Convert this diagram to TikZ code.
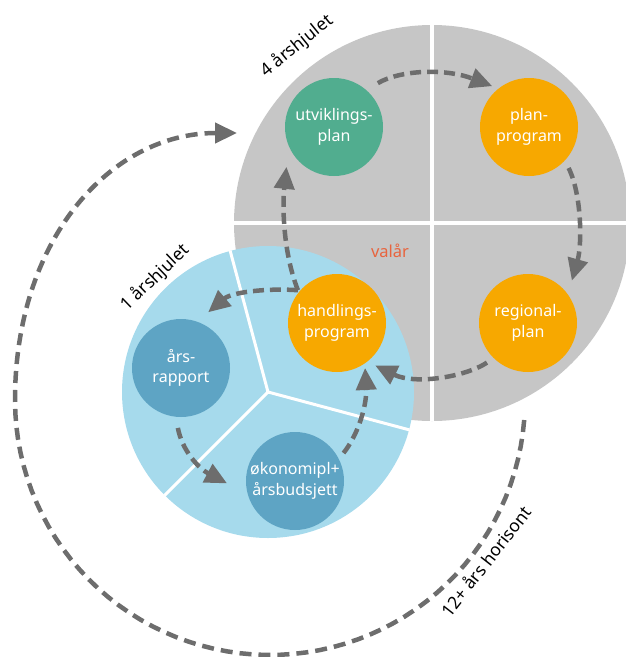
\documentclass[tikz,border=0pt]{standalone}
\usepackage{fontspec}
\setmainfont{Noto Sans}
\usetikzlibrary{arrows.meta}
\definecolor{cgrey}{HTML}{C6C6C6}
\definecolor{clblue}{HTML}{A6DAEC}
\definecolor{cdblue}{HTML}{5EA4C4}
\definecolor{corange}{HTML}{F7A800}
\definecolor{cgreen}{HTML}{51AD8F}
\definecolor{carrow}{HTML}{6D6D6D}
\definecolor{cred}{HTML}{E8643E}
\begin{document}
\begin{tikzpicture}[x=1pt,y=-1pt,
 stage/.style={circle,minimum size=98pt,inner sep=0pt,text=white,align=center,font=\fontsize{16}{20.5}\selectfont},
 flow/.style={draw=carrow,line width=4.5pt,dash pattern=on 11pt off 6pt,-{Triangle[length=22pt,width=20pt]}},
 lbl/.style={font=\fontsize{17.5}{20}\selectfont,inner sep=0pt}]
\useasboundingbox (0,0) rectangle (626,657);
\node[circle,fill=cgrey,minimum size=396pt,inner sep=0pt] (big) at (432,223) {};
\draw[white,line width=4pt] (big.north) -- (big.south) (big.west) -- (big.east);
\node[circle,fill=clblue,minimum size=292pt,inner sep=0pt] (small) at (268,392) {};
\draw[white,line width=3pt] (small.105) -- (small.center) -- (small.-15) (small.center) -- (small.225);

\node[stage,fill=cgreen] (u) at (334,127) {utviklings-\\plan};
\node[stage,fill=corange] (p) at (529,127) {plan-\\program};
\node[stage,fill=corange] (r) at (528,323) {regional-\\plan};
\node[stage,fill=corange] (h) at (337,323) {handlings-\\program};
\node[stage,fill=cdblue] (a) at (181,368) {års-\\rapport};
\node[stage,fill=cdblue] (o) at (295,481) {økonomipl+\\årsbudsjett};

\node[lbl,font=\fontsize{16.5}{20}\selectfont,text=cred] (valar) at (390,251) {valår};
\node[lbl,rotate=39] (l4) at (297,46) {4 årshjulet};
\node[lbl,rotate=44] (l1) at (155,278) {1 årshjulet};
\node[lbl,rotate=52] (l12) at (486,561) {12+ års horisont};

\draw[flow] ([shift={(45:62pt)}]u.center) .. controls (400,70) and (445,68) .. ([shift={(132:55pt)}]p.center);
\draw[flow] ([shift={(-46:57pt)}]p.center) .. controls (582,195) and (582,245) .. ([shift={(44:61pt)}]r.center);
\draw[flow] ([shift={(224:57pt)}]r.center) .. controls (465,377) and (415,385) .. ([shift={(-48:57pt)}]h.center);
\draw[flow] ([shift={(140:51pt)}]h.center) .. controls (284,255) and (282,210) .. ([shift={(220:62pt)}]u.center);
\draw[flow] ([shift={(140:51pt)}]h.center) .. controls (268,288) and (232,292) .. ([shift={(64:62pt)}]a.center);
\draw[flow] ([shift={(267:60pt)}]a.center) .. controls (182,450) and (198,468) .. ([shift={(182:68pt)}]o.center);
\draw[flow] ([shift={(30:56pt)}]o.center) .. controls (358,435) and (367,405) .. ([shift={(-58:53pt)}]h.center);

\coordinate (horizonend) at (237,133);
\draw[flow,dash pattern=on 12pt off 7pt] plot[domain=4.5:180,samples=60] ({270+255*cos(\x)},{400+255*sin(\x)}) .. controls (15,240) and (110,133) .. (horizonend);
\end{tikzpicture}
\end{document}
